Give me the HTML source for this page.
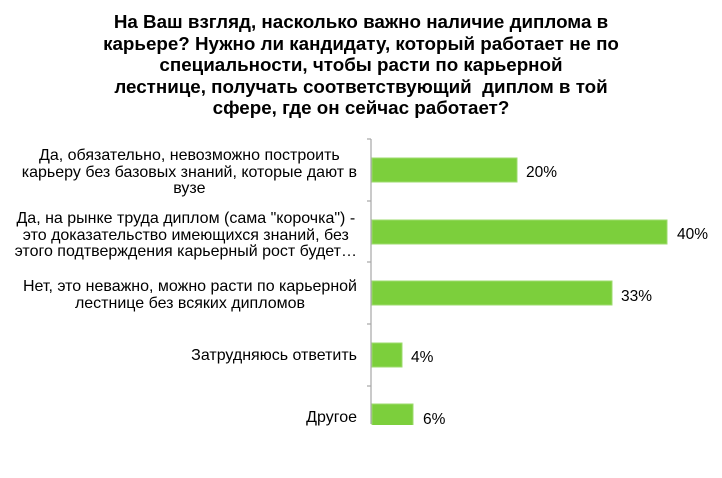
<!DOCTYPE html>
<html><head><meta charset="utf-8">
<style>
html,body{margin:0;padding:0;background:#fff;}
body{width:722px;height:478px;position:relative;overflow:hidden;font-family:"Liberation Sans",Arial,sans-serif;color:#000;}
.t{position:absolute;left:0;width:722px;text-align:center;font-weight:bold;font-size:18.8px;line-height:22px;white-space:nowrap;}
.t span{display:block;height:21.6px;}
.lab{position:absolute;right:365px;text-align:center;font-size:16px;line-height:16.5px;white-space:nowrap;}
.v{position:absolute;font-size:15.5px;line-height:18px;white-space:nowrap;}
</style></head><body>
<div class="t" style="top:11px;left:0px;">
<span>На Ваш взгляд, насколько важно наличие диплома в</span>
<span>карьере? Нужно ли кандидату, который работает не по</span>
<span>специальности, чтобы расти по карьерной</span>
<span>лестнице, получать соответствующий&nbsp; диплом в той</span>
<span>сфере, где он сейчас работает?</span>
</div>
<svg width="722" height="478" style="position:absolute;left:0;top:0">
<g fill="#7ccf3c" stroke="#9edb6e" stroke-width="1">
<rect x="372" y="158" width="145" height="24"/>
<rect x="372" y="220" width="295" height="24"/>
<rect x="372" y="281" width="240" height="24"/>
<rect x="372" y="343" width="30" height="24"/>
<rect x="372" y="404" width="41" height="24"/>
</g>
<rect x="355" y="425" width="100" height="10" fill="#fff"/>
<g stroke="#a6a6a6" stroke-width="1.2">
<line x1="371" y1="139" x2="371" y2="424"/>
<line x1="367" y1="139" x2="371" y2="139"/>
<line x1="367" y1="201" x2="371" y2="201"/>
<line x1="367" y1="262" x2="371" y2="262"/>
<line x1="367" y1="324" x2="371" y2="324"/>
<line x1="367" y1="386" x2="371" y2="386"/>
</g>
</svg>
<div class="lab" style="top:148px;">Да, обязательно, невозможно построить<br>карьеру без базовых знаний, которые дают в<br>вузе</div>
<div class="lab" style="top:211px;">Да, на рынке труда диплом (сама "корочка") -<br>это доказательство имеющихся знаний, без<br>этого подтверждения карьерный рост будет…</div>
<div class="lab" style="top:279px;">Нет, это неважно, можно расти по карьерной<br>лестнице без всяких дипломов</div>
<div class="lab" style="top:348px;">Затрудняюсь ответить</div>
<div class="lab" style="top:410px;">Другое</div>
<div class="v" style="left:526px;top:164px;">20%</div>
<div class="v" style="left:677px;top:226px;">40%</div>
<div class="v" style="left:621px;top:288px;">33%</div>
<div class="v" style="left:411px;top:349px;">4%</div>
<div class="v" style="left:423px;top:411px;">6%</div>
</body></html>
